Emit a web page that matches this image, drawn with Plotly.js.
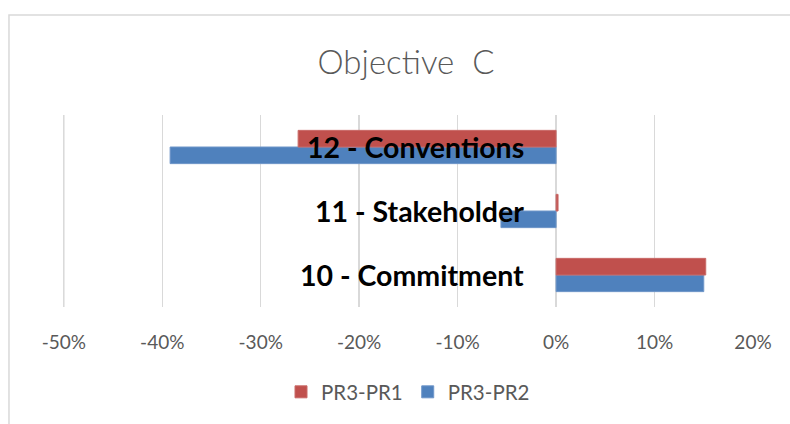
<!DOCTYPE html>
<html>
<head>
<meta charset="utf-8">
<script src="https://cdn.plot.ly/plotly-3.0.1.min.js"></script>
<style>html,body{margin:0;padding:0;background:#fff;}#chart{width:790px;height:424px;}</style>
</head>
<body>
<div id="chart"></div>
<script>
const categories = ["10 - Commitment", "11 - Stakeholder", "12 - Conventions"];
const pr3pr1 = [0.152, 0.002, -0.262];
const pr3pr2 = [0.150, -0.056, -0.392];
const tickVals = [-0.5, -0.4, -0.3, -0.2, -0.1, 0, 0.1, 0.2];
const tickText = ["-50%", "-40%", "-30%", "-20%", "-10%", "0%", "10%", "20%"];

const traces = [
  {type: "bar", orientation: "h", name: "PR3-PR2", y: categories, x: pr3pr2,
   marker: {color: "#4f81bd", line: {color: "#6f96c9", width: 1}}, hoverinfo: "none"},
  {type: "bar", orientation: "h", name: "PR3-PR1", y: categories, x: pr3pr1,
   marker: {color: "#c0504d", line: {color: "#c96a68", width: 1}}, hoverinfo: "none"}
];

const annotations = categories.map(c => ({
  x: 0, y: c, xref: "x", yref: "y", text: c, showarrow: false,
  xanchor: "right", yanchor: "middle", xshift: -30,
  font: {family: "Lato, 'Open Sans', sans-serif", size: 28.5, color: "#000", weight: "bold"}
}));

const layout = {
  width: 790, height: 424,
  margin: {l: 62.5, r: 37.3, t: 115, b: 117, pad: 0},
  paper_bgcolor: "#fff", plot_bgcolor: "#fff",
  barmode: "group", bargap: 0.48, bargroupgap: 0,
  title: {text: "Objective  C", x: 0.514, xref: "container", y: 1 - 62/424, yref: "container",
          xanchor: "center", yanchor: "middle",
          font: {family: "Lato, 'Open Sans', sans-serif", size: 33, color: "#595959", weight: 300}},
  xaxis: {range: [-0.5008, 0.2], tickvals: tickVals, ticktext: tickText,
          showgrid: true, gridcolor: "#d9d9d9", gridwidth: 1.5,
          zeroline: true, zerolinecolor: "#d9d9d9", zerolinewidth: 1.5,
          showline: false, ticks: "", ticklabelstandoff: 22,
          tickfont: {family: "Lato, 'Open Sans', sans-serif", size: 19, color: "#595959"}, fixedrange: true},
  yaxis: {showticklabels: false, showgrid: false, zeroline: false, showline: false, ticks: "", fixedrange: true},
  showlegend: true,
  legend: {orientation: "h", x: 0.5, xanchor: "center", y: 1 - 277/192, yanchor: "middle",
           traceorder: "reversed", font: {family: "Lato, 'Open Sans', sans-serif", size: 20.5, color: "#595959"},
           itemwidth: 30, itemclick: false, itemdoubleclick: false},
  annotations: annotations,
  shapes: [
    {type: "rect", xref: "paper", yref: "paper", x0: -54/689.7, x1: 1.06, y0: -0.62, y1: 1 + 100/192,
     line: {color: "#d9d9d9", width: 1.5}, fillcolor: "rgba(0,0,0,0)", layer: "below"},
    {type: "line", xref: "x", yref: "paper", x0: tickVals[0], x1: tickVals[0], y0: 0, y1: 1,
     line: {color: "#d9d9d9", width: 1.5}, layer: "below"}
  ]
};

Plotly.newPlot("chart", traces, layout, {displayModeBar: false, staticPlot: true});
</script>
</body>
</html>
